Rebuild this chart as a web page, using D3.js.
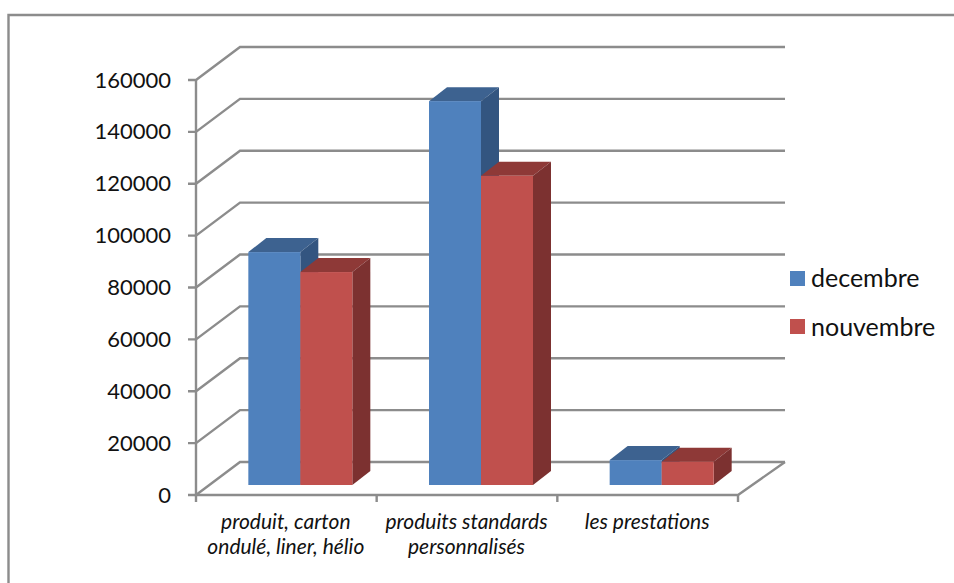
<!DOCTYPE html>
<html lang="fr">
<head>
  <meta charset="UTF-8">
  <title>decembre / nouvembre</title>
  <style>
    body{ margin: 0; background: #fff; }
    text{ font-family: Lato, "Open Sans", sans-serif; fill: #111; }
    .grid{ fill: none; stroke: #8c8c8c; stroke-width: 2.4px; }
  </style>
</head>
<body>
  <script src="https://cdn.jsdelivr.net/npm/d3@7"></script>
  <script>
    const categories = [['produit, carton', 'ondulé, liner, hélio'], ['produits standards', 'personnalisés'], ['les prestations']];
    const seriesNames = ['decembre', 'nouvembre'];
    const decembre = [89800, 148000, 9600];
    const nouvembre = [82100, 119200, 9000];
    const yTicks = [0, 20000, 40000, 60000, 80000, 100000, 120000, 140000, 160000];
    const colors = {decembre: ['#4f81bd', '#3d6290', '#335580'], nouvembre: ['#c0504d', '#8e3937', '#7c3130']};

    const width = 954, height = 583;
    const dx = 44, dy = -33;       // depth of the floor
    const barDx = 18, barDy = -14; // depth of a bar
    const floorGap = 10;           // bars stand this far above the front edge

    const x = d3.scaleBand().domain(d3.range(categories.length)).range([196, 738]);
    const y = d3.scaleLinear().domain([0, 160000]).range([495, 80]);
    const values = {decembre, nouvembre};
    const barW = 52;

    const svg = d3.select('body').append('svg').attr('width', width).attr('height', height)
      .style('display', 'block');
    // only the top and left edges of the frame show
    svg.append('path').attr('class', 'grid').attr('d', d3.line()([[8.5, height], [8.5, 15], [width, 15]]));

    // walls
    yTicks.forEach(function(t){
      svg.append('path').attr('class', 'grid')
        .attr('d', d3.line()([[x.range()[0] - 8, y(t)], [x.range()[0], y(t)], [x.range()[0] + dx, y(t) + dy], [785, y(t) + dy]]));
      svg.append('text').attr('x', 171).attr('y', y(t) + 7.5).attr('text-anchor', 'end')
        .attr('font-size', 22).text(t);
    });
    svg.append('path').attr('class', 'grid')
      .attr('d', d3.line()([[x.range()[0], y(160000)], [x.range()[0], y(0)], [738, y(0)], [785, y(0) + dy]]));
    d3.range(categories.length + 1).forEach(function(i){
      const tx = x.range()[0] + i * x.step();
      svg.append('line').attr('class', 'grid').attr('x1', tx).attr('x2', tx).attr('y1', y(0)).attr('y2', y(0) + 7);
    });

    // bars, back to front, left to right
    categories.forEach(function(c, i){
      seriesNames.forEach(function(name, s){
        const x0 = x(i) + x.step() / 2 + 14 - barW + s * barW;
        const base = y(0) - floorGap;
        const top = y(values[name][i]) - floorGap;
        const col = colors[name];
        const g = svg.append('g');
        g.append('polygon').attr('fill', col[1])
          .attr('points', [[x0, top], [x0 + barDx, top + barDy], [x0 + barW + barDx, top + barDy], [x0 + barW, top]].join(' '));
        g.append('polygon').attr('fill', col[2])
          .attr('points', [[x0 + barW, top], [x0 + barW + barDx, top + barDy], [x0 + barW + barDx, base + barDy], [x0 + barW, base]].join(' '));
        g.append('rect').attr('x', x0).attr('y', top).attr('width', barW).attr('height', base - top).attr('fill', col[0]);
      });
    });

    // category labels
    categories.forEach(function(lines, i){
      const t = svg.append('text').attr('text-anchor', 'middle').attr('font-size', 21).attr('font-style', 'italic');
      lines.forEach(function(l, j){
        t.append('tspan').attr('x', x(i) + x.step() / 2 - 0.5).attr('y', 528.5 + j * 25.5).text(l);
      });
    });

    // legend
    seriesNames.forEach(function(name, s){
      const ly = 271 + s * 48;
      svg.append('rect').attr('x', 790).attr('y', ly).attr('width', 15).attr('height', 15).attr('fill', colors[name][0]);
      svg.append('text').attr('x', 811).attr('y', ly + 15.5 + s).attr('font-size', 25).text(name);
    });
  </script>
</body>
</html>
